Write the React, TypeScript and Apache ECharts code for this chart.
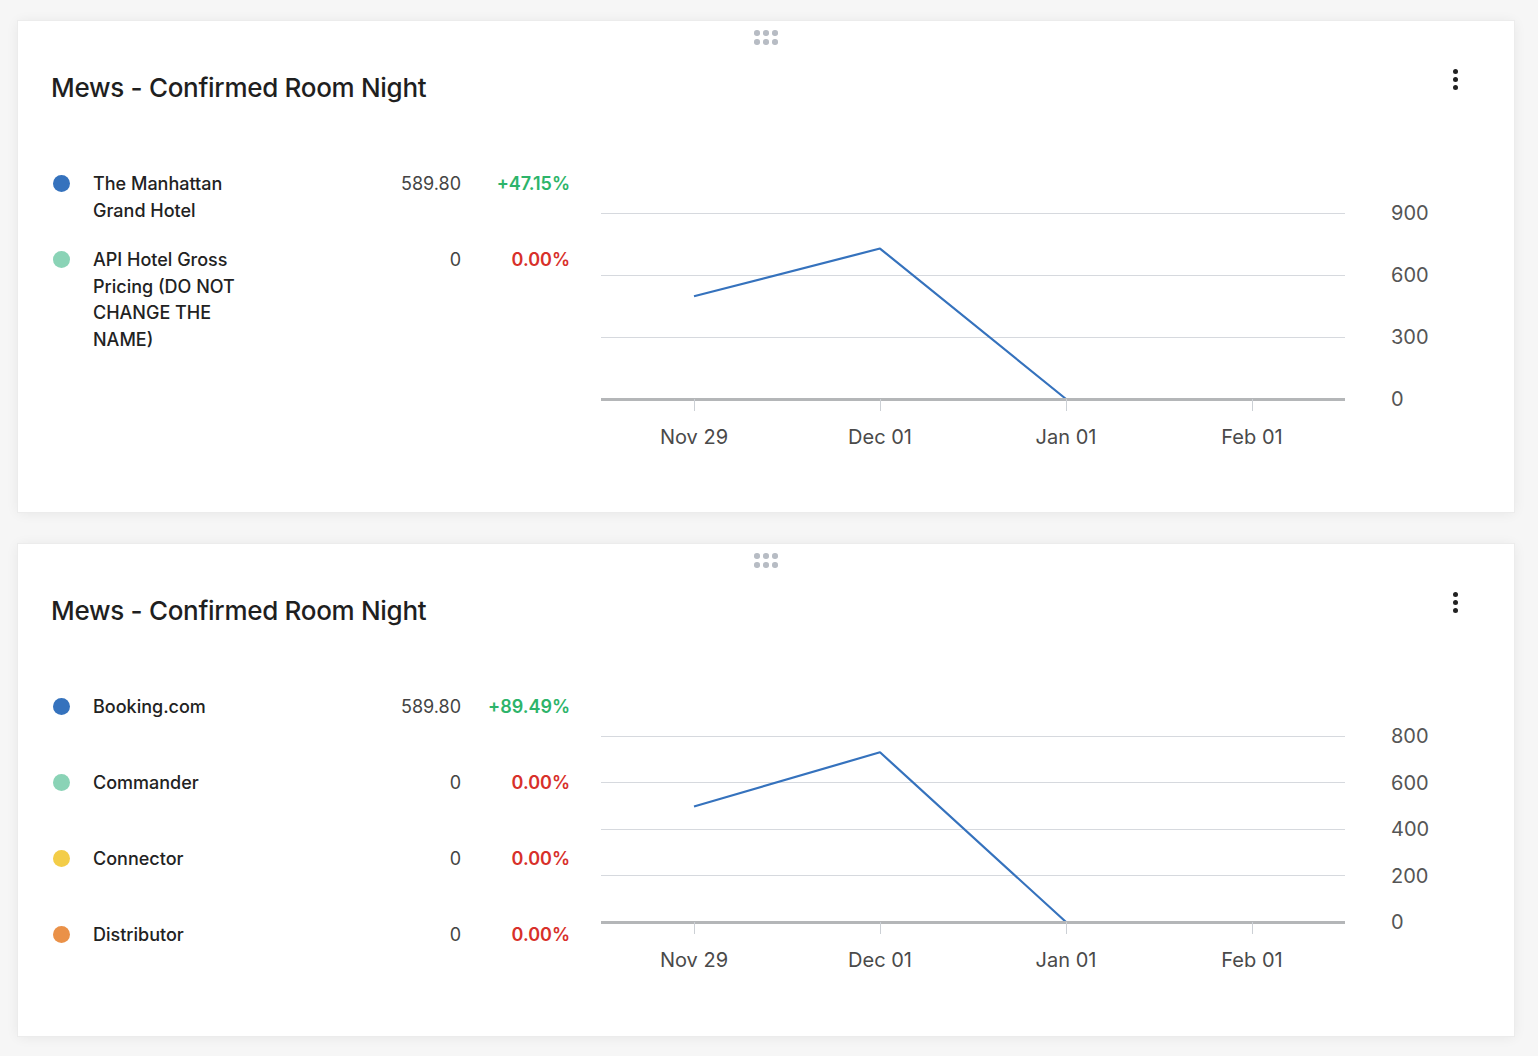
import React, { useEffect, useRef } from "react";
import * as echarts from "echarts";

// ---- data ----
const categories = ["Nov 29", "Dec 01", "Jan 01", "Feb 01"];

const manhattanValues = [497, 728, 0, 0];
const apiHotelValues = [0, 0, 0, 0];

const bookingValues = [497, 730, 0, 0];
const commanderValues = [0, 0, 0, 0];
const connectorValues = [0, 0, 0, 0];
const distributorValues = [0, 0, 0, 0];

const topNames = ["The Manhattan Grand Hotel", "API Hotel Gross Pricing (DO NOT CHANGE THE NAME)"];
const topTotals = ["589.80", "0"];
const topChanges = ["+47.15%", "0.00%"];

const bottomNames = ["Booking.com", "Commander", "Connector", "Distributor"];
const bottomTotals = ["589.80", "0", "0", "0"];
const bottomChanges = ["+89.49%", "0.00%", "0.00%", "0.00%"];

const topYAxis = { min: 0, max: 900, interval: 300 };
const bottomYAxis = { min: 0, max: 800, interval: 200 };

const title = "Mews - Confirmed Room Night";

// ---- styles ----
const COLORS = ["#3572bd", "#8ad3b6", "#f3cd48", "#ea9148"];
const FONT = "Inter, 'Noto Sans', sans-serif";

type Legend = { names: string[]; totals: string[]; changes: string[] };

function Chart({ series, yAxis }: { series: number[][]; yAxis: { min: number; max: number; interval: number } }) {
  const ref = useRef<HTMLDivElement>(null);
  useEffect(() => {
    if (!ref.current) return;
    const chart = echarts.init(ref.current, undefined, { renderer: "svg" });
    chart.setOption({
      animation: false,
      grid: { left: 42, right: 154, top: 62, bottom: 92 },
      xAxis: {
        type: "category",
        data: categories,
        boundaryGap: true,
        z: 5,
        axisLine: { show: true, lineStyle: { color: "#b4b6b8", width: 3, cap: "butt" } },
        axisTick: { show: true, alignWithLabel: true, length: 12, lineStyle: { color: "#ccd0d5", width: 1 } },
        axisLabel: { color: "#4a4a4a", fontSize: 20, fontFamily: FONT, margin: 28 },
        splitLine: { show: false },
      },
      yAxis: {
        type: "value",
        position: "right",
        min: yAxis.min,
        max: yAxis.max,
        interval: yAxis.interval,
        axisLine: { show: false },
        axisTick: { show: false },
        axisLabel: { color: "#555", fontSize: 20, fontFamily: FONT, margin: 46, align: "left" },
        splitLine: { show: true, lineStyle: { color: "#d6d9de", width: 1 } },
      },
      series: series.map((d, i) => ({
        type: "line",
        data: d,
        symbol: "none",
        lineStyle: { color: COLORS[i], width: 2.2 },
        itemStyle: { color: COLORS[i] },
        z: i === 0 ? 4 : 2,
      })),
    });
    return () => chart.dispose();
  }, []);
  return <div ref={ref} style={{ position: "absolute", left: 541, top: 130, width: 940, height: 340 }} />;
}

function Card({ top, height, legend, series, yAxis }: { top: number; height: number; legend: Legend; series: number[][]; yAxis: any }) {
  const dots: React.ReactNode[] = [];
  [0, 1].forEach((r) =>
    [0, 1, 2].forEach((c) =>
      dots.push(
        <div
          key={`${r}-${c}`}
          style={{
            position: "absolute",
            left: 739 + c * 9 - 2.75,
            top: 12 + r * 9 - 2.75,
            width: 5.5,
            height: 5.5,
            borderRadius: "50%",
            background: "#b7bcc4",
          }}
        />
      )
    )
  );
  return (
    <div
      style={{
        position: "absolute",
        left: 18,
        top,
        width: 1496,
        height,
        background: "#fff",
        boxShadow: "0 0 0 1px #ececec, 0 1px 12px rgba(0,0,0,0.07)",
        fontFamily: FONT,
      }}
    >
      {dots}
      {[0, 1, 2].map((i) => (
        <div
          key={i}
          style={{
            position: "absolute",
            left: 1437 - 2.5,
            top: 50 + i * 8 - 2.5,
            width: 5,
            height: 5,
            borderRadius: "50%",
            background: "#222",
          }}
        />
      ))}
      <div
        style={{
          position: "absolute",
          left: 33,
          top: 51,
          fontSize: 26,
          lineHeight: "32px",
          fontWeight: 500,
          color: "#1f1f1f",
          whiteSpace: "nowrap",
          letterSpacing: -0.3,
        }}
      >
        {title}
      </div>
      {legend.names.map((n, i) => {
        const rowTop = 150 + i * 76;
        const up = legend.changes[i].startsWith("+");
        return (
          <React.Fragment key={n}>
            <div
              style={{
                position: "absolute",
                left: 34.5,
                top: rowTop + 4,
                width: 17,
                height: 17,
                borderRadius: "50%",
                background: COLORS[i],
              }}
            />
            <div
              style={{
                position: "absolute",
                left: 75,
                top: rowTop,
                width: 158,
                fontSize: 18,
                lineHeight: "26.5px",
                fontWeight: 500,
                color: "#222",
              }}
            >
              {n}
            </div>
            <div
              style={{
                position: "absolute",
                right: 1496 - 443,
                top: rowTop,
                fontSize: 18,
                lineHeight: "26px",
                color: "#444",
                whiteSpace: "nowrap",
              }}
            >
              {legend.totals[i]}
            </div>
            <div
              style={{
                position: "absolute",
                right: 1496 - 552,
                top: rowTop,
                fontSize: 18,
                lineHeight: "26px",
                fontWeight: 600,
                color: up ? "#2db46a" : "#d8302a",
                whiteSpace: "nowrap",
              }}
            >
              {legend.changes[i]}
            </div>
          </React.Fragment>
        );
      })}
      <Chart series={series} yAxis={yAxis} />
    </div>
  );
}

export default function App() {
  return (
    <div style={{ position: "absolute", left: 0, top: 0, width: 1538, height: 1056, background: "#f6f6f6", overflow: "hidden" }}>
      <Card
        top={21}
        height={491}
        legend={{ names: topNames, totals: topTotals, changes: topChanges }}
        series={[manhattanValues, apiHotelValues]}
        yAxis={topYAxis}
      />
      <Card
        top={544}
        height={492}
        legend={{ names: bottomNames, totals: bottomTotals, changes: bottomChanges }}
        series={[bookingValues, commanderValues, connectorValues, distributorValues]}
        yAxis={bottomYAxis}
      />
    </div>
  );
}
